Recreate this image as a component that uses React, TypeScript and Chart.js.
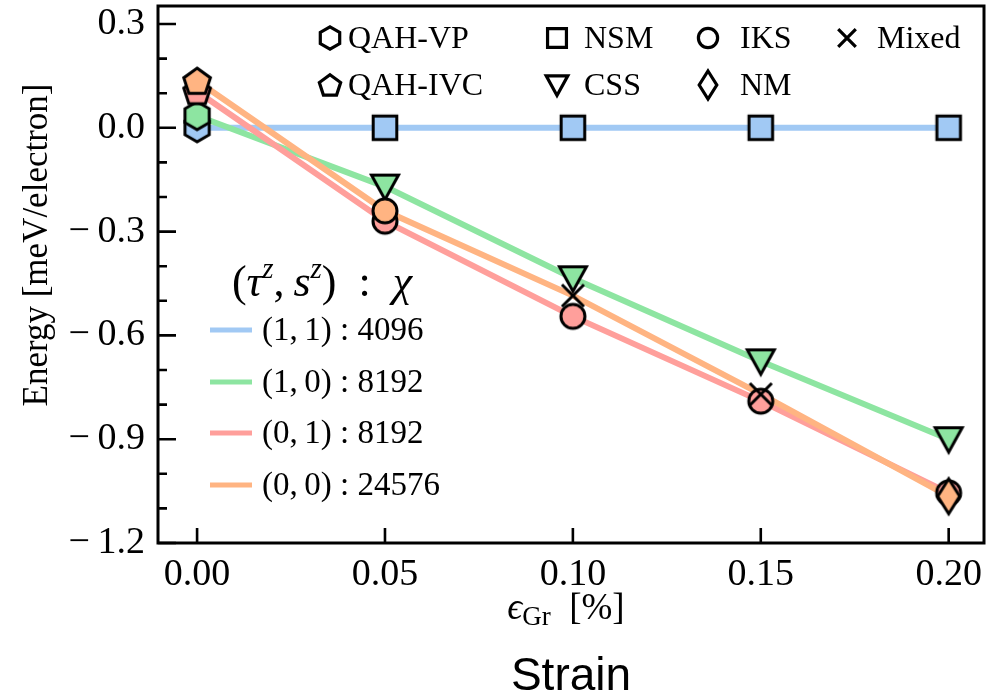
import React, { useEffect, useRef } from "react";
import { Chart, registerables } from "chart.js";

Chart.register(...registerables);

// ---------------- data ----------------
const strain = [0, 0.05, 0.1, 0.15, 0.2];
const energy11 = [0, 0, 0, 0, 0];
const energy10 = [0.035, -0.17, -0.435, -0.675, -0.9];
const energy01 = [0.105, -0.27, -0.545, -0.79, -1.055];
const energy00 = [0.135, -0.24, -0.485, -0.77, -1.065];
const phase11 = ["QAH-VP", "NSM", "NSM", "NSM", "NSM"];
const phase10 = ["QAH-VP", "CSS", "CSS", "CSS", "CSS"];
const phase01 = ["QAH-IVC", "IKS", "IKS", "IKS", "IKS"];
const phase00 = ["QAH-IVC", "IKS", "Mixed", "Mixed", "NM"];
const seriesTuples = ["(1,\u20091)", "(1,\u20090)", "(0,\u20091)", "(0,\u20090)"];
const seriesChi = ["4096", "8192", "8192", "24576"];
const legendRow1 = ["QAH-VP", "NSM", "IKS", "Mixed"];
const legendRow2 = ["QAH-IVC", "CSS", "NM"];
const xTicks = [0, 0.05, 0.1, 0.15, 0.2];
const yTicks = [-1.2, -0.9, -0.6, -0.3, 0, 0.3];
const yMinorTicks = [-1.1, -1.0, -0.8, -0.7, -0.5, -0.4, -0.2, -0.1, 0.1, 0.2];
const colors = ["#a1c9f4", "#8de5a1", "#ff9f9b", "#ffb482"];

const shapeOf: Record<string, string> = {
  "QAH-VP": "hexagon",
  "QAH-IVC": "pentagon",
  NSM: "square",
  CSS: "triangleDown",
  IKS: "circle",
  NM: "thinDiamond",
  Mixed: "x",
};

const SERIF = '"Liberation Serif", "DejaVu Serif", serif';

function makeMarker(shape: string, fill: string | null, scale = 1, lw = 3): HTMLCanvasElement {
  const S = 56;
  const c = document.createElement("canvas");
  c.width = S;
  c.height = S;
  const g = c.getContext("2d")!;
  g.translate(S / 2, S / 2);
  g.lineWidth = lw;
  g.strokeStyle = "#000";
  g.lineJoin = "miter";
  g.beginPath();
  const k1 = scale;
  if (shape === "hexagon") {
    const r = 14 * k1;
    for (let k = 0; k < 6; k++) {
      const a = -Math.PI / 2 + (k * Math.PI) / 3;
      const px = r * Math.cos(a), py = r * Math.sin(a);
      k === 0 ? g.moveTo(px, py) : g.lineTo(px, py);
    }
    g.closePath();
  } else if (shape === "pentagon") {
    const r = 14 * k1;
    for (let k = 0; k < 5; k++) {
      const a = -Math.PI / 2 + (k * 2 * Math.PI) / 5;
      const px = r * Math.cos(a), py = r * Math.sin(a) + 1;
      k === 0 ? g.moveTo(px, py) : g.lineTo(px, py);
    }
    g.closePath();
  } else if (shape === "square") {
    const h = 11.8 * k1;
    g.rect(-h, -h, 2 * h, 2 * h);
  } else if (shape === "circle") {
    g.arc(0, 0, 12 * k1, 0, Math.PI * 2);
  } else if (shape === "triangleDown") {
    g.moveTo(-13.5 * k1, -11.5 * k1);
    g.lineTo(13.5 * k1, -11.5 * k1);
    g.lineTo(0, 13 * k1);
    g.closePath();
  } else if (shape === "thinDiamond") {
    g.moveTo(0, -17.5 * k1);
    g.lineTo(11 * k1, 0);
    g.lineTo(0, 17.5 * k1);
    g.lineTo(-11 * k1, 0);
    g.closePath();
  } else if (shape === "x") {
    const h = 11 * k1;
    g.moveTo(-h, -h);
    g.lineTo(h, h);
    g.moveTo(h, -h);
    g.lineTo(-h, h);
    g.stroke();
    return c;
  }
  if (fill) {
    g.fillStyle = fill;
    g.fill();
  }
  g.stroke();
  return c;
}

type Part = { t: string; font: string; dy?: number };

function drawRich(ctx: CanvasRenderingContext2D, parts: Part[], x: number, y: number, align: "left" | "center") {
  let total = 0;
  for (const p of parts) {
    ctx.font = p.font;
    total += ctx.measureText(p.t).width;
  }
  let cx = align === "center" ? x - total / 2 : x;
  ctx.textAlign = "left";
  ctx.textBaseline = "alphabetic";
  for (const p of parts) {
    ctx.font = p.font;
    ctx.fillText(p.t, cx, y + (p.dy || 0));
    cx += ctx.measureText(p.t).width;
  }
}

const fmtY = (v: number) => {
  const s = Math.abs(v).toFixed(1);
  return v < -1e-9 ? "\u2212\u2009" + s : s;
};

const zeroPad = (s: any) => {
  s.paddingTop = 0;
  s.paddingBottom = 0;
  s.paddingLeft = 0;
  s.paddingRight = 0;
};

export default function App() {
  const ref = useRef<HTMLCanvasElement | null>(null);

  useEffect(() => {
    if (!ref.current) return;
    const energies = [energy11, energy10, energy01, energy00];
    const phases = [phase11, phase10, phase01, phase00];

    const lineSets = energies.map((e, i) => ({
      type: "scatter" as const,
      data: strain.map((x, j) => ({ x, y: e[j] })),
      showLine: true,
      borderColor: colors[i],
      backgroundColor: colors[i],
      borderWidth: 6,
      pointRadius: 0,
      order: 20 - i,
    }));
    const markerSets = energies.map((e, i) => ({
      type: "scatter" as const,
      data: strain.map((x, j) => ({ x, y: e[j] })),
      showLine: false,
      pointStyle: phases[i].map((p) => makeMarker(shapeOf[p], colors[i])),
      pointRadius: 12,
      order: 10 - i,
    }));

    const legendMarkers1 = legendRow1.map((p) => makeMarker(shapeOf[p], null, 0.8, 3.2));
    const legendMarkers2 = legendRow2.map((p) => makeMarker(shapeOf[p], null, 0.8, 3.2));

    const decor = {
      id: "decor",
      afterDatasetsDraw(chart: any) {
        const { ctx, chartArea: a, scales } = chart;
        const xs = scales.x, ys = scales.y;
        ctx.save();
        ctx.strokeStyle = "#000";
        ctx.lineWidth = 2.6;
        ctx.beginPath();
        for (const v of yTicks) {
          const py = ys.getPixelForValue(v);
          ctx.moveTo(a.left, py);
          ctx.lineTo(a.left + 18, py);
        }
        for (const v of yMinorTicks) {
          const py = ys.getPixelForValue(v);
          ctx.moveTo(a.left, py);
          ctx.lineTo(a.left + 9, py);
        }
        for (const v of xTicks) {
          const px = xs.getPixelForValue(v);
          ctx.moveTo(px, a.bottom);
          ctx.lineTo(px, a.bottom - 15);
        }
        ctx.stroke();
        ctx.lineWidth = 3;
        ctx.strokeRect(a.left, a.top, a.right - a.left, a.bottom - a.top);
        ctx.restore();
      },
      afterDraw(chart: any) {
        const { ctx } = chart;
        ctx.save();
        ctx.fillStyle = "#000";
        // marker legend (top right)
        const colMarkerX = [330, 557, 708, 847];
        const colTextX = [348, 584, 740, 877];
        const rowY = [38, 85];
        const rows = [legendRow1, legendRow2];
        const rowMarkers = [legendMarkers1, legendMarkers2];
        ctx.font = `32px ${SERIF}`;
        ctx.textBaseline = "middle";
        ctx.textAlign = "left";
        rows.forEach((row, r) => {
          row.forEach((name, k) => {
            const m = rowMarkers[r][k];
            ctx.drawImage(m, colMarkerX[k] - m.width / 2, rowY[r] - m.height / 2);
            ctx.fillText(name, colTextX[k], rowY[r] + 2);
          });
        });

        // series legend
        const it = `italic 44px ${SERIF}`;
        const rm = `44px ${SERIF}`;
        const sup = `italic 29px ${SERIF}`;
        drawRich(
          ctx,
          [
            { t: "(", font: rm },
            { t: "\u03c4", font: it },
            { t: "z", font: sup, dy: -18 },
            { t: ",\u2009", font: rm },
            { t: "s", font: it },
            { t: "z", font: sup, dy: -18 },
            { t: ")", font: rm },
            { t: "\u2002:\u2002", font: rm },
            { t: "\u03c7", font: it },
          ],
          322,
          296,
          "center"
        );
        const entryY = [330, 382, 433, 485];
        entryY.forEach((yy, i) => {
          ctx.strokeStyle = colors[i];
          ctx.lineWidth = 5;
          ctx.beginPath();
          ctx.moveTo(210, yy);
          ctx.lineTo(252, yy);
          ctx.stroke();
          ctx.font = `33px ${SERIF}`;
          ctx.textBaseline = "middle";
          ctx.textAlign = "left";
          ctx.fillText(`${seriesTuples[i]} : ${seriesChi[i]}`, 262, yy + 1);
        });

        // y axis title
        ctx.save();
        ctx.translate(38, 245);
        ctx.rotate(-Math.PI / 2);
        ctx.font = `35px ${SERIF}`;
        ctx.textAlign = "center";
        ctx.textBaseline = "middle";
        ctx.fillText("Energy [meV/electron]", 0, 0);
        ctx.restore();

        // x axis title
        drawRich(
          ctx,
          [
            { t: "\u03f5", font: `italic 37px ${SERIF}` },
            { t: "Gr", font: `27px ${SERIF}`, dy: 6 },
            { t: "\u2002[%]", font: `37px ${SERIF}` },
          ],
          566,
          619,
          "center"
        );

        // figure caption
        ctx.font = `46px "Liberation Sans", Arial, sans-serif`;
        ctx.textAlign = "center";
        ctx.textBaseline = "middle";
        ctx.fillText("Strain", 571, 677);
        ctx.restore();
      },
    };

    const chart = new Chart(ref.current, {
      type: "scatter",
      data: { datasets: [...lineSets, ...markerSets] as any },
      options: {
        animation: false,
        responsive: false,
        layout: { autoPadding: false, padding: { top: 6, right: 4, left: 0, bottom: 0 } },
        plugins: { legend: { display: false }, tooltip: { enabled: false } },
        scales: {
          x: {
            type: "linear",
            bounds: "data",
            min: -0.0104,
            max: 0.2094,
            afterBuildTicks: (s: any) => {
              s.ticks = xTicks.map((v) => ({ value: v }));
            },
            afterFit: (s: any) => {
              s.height = 157;
              zeroPad(s);
            },
            ticks: {
              callback: (v: any) => Number(v).toFixed(2),
              font: { family: SERIF, size: 38 },
              color: "#000",
              padding: 9,
              maxRotation: 0,
              autoSkip: false,
            },
            grid: { display: false, drawTicks: false },
            border: { display: false },
          },
          y: {
            type: "linear",
            bounds: "data",
            min: -1.2,
            max: 0.352,
            afterBuildTicks: (s: any) => {
              s.ticks = yTicks.map((v) => ({ value: v }));
            },
            afterFit: (s: any) => {
              s.width = 158;
              zeroPad(s);
            },
            ticks: {
              callback: (v: any) => fmtY(Number(v)),
              font: { family: SERIF, size: 38 },
              color: "#000",
              padding: 13,
              autoSkip: false,
            },
            grid: { display: false, drawTicks: false },
            border: { display: false },
          },
        },
      },
      plugins: [decor],
    } as any);
    return () => chart.destroy();
  }, []);

  return (
    <div style={{ position: "absolute", left: 0, top: 0, width: 988, height: 700, background: "#fff" }}>
      <canvas ref={ref} width={988} height={700} style={{ display: "block" }} />
    </div>
  );
}
